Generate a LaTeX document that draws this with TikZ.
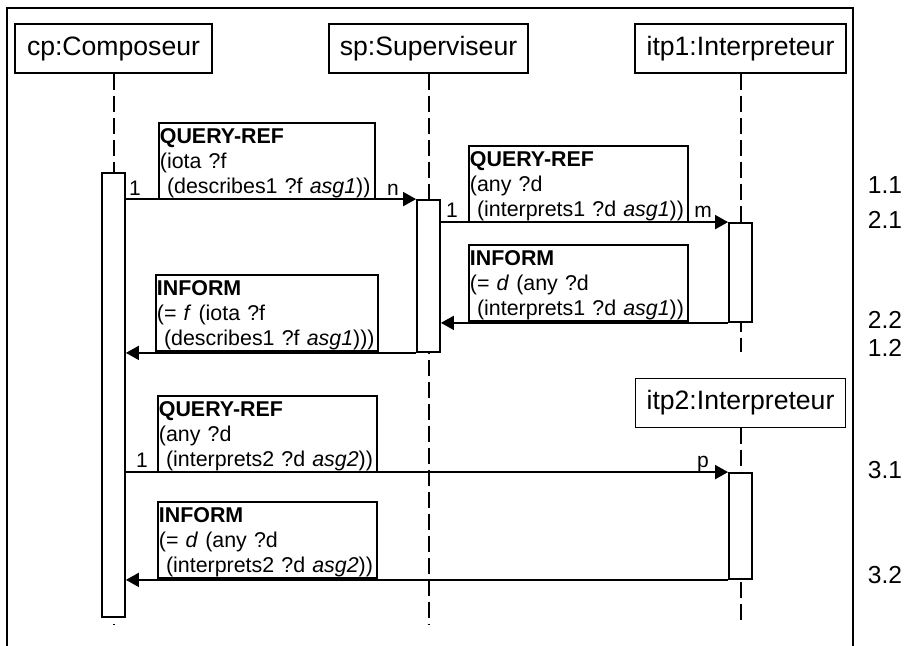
\documentclass[tikz,border=0pt]{standalone}
\usepackage{fontspec}
\setmainfont{Liberation Sans}
\usetikzlibrary{arrows.meta}

\newcommand*{\lifeend}{625}
\newcommand*{\msgtext}[3]{\rule{0pt}{10pt}\textbf{#1}\\#2\\~#3}

\begin{document}
\begin{tikzpicture}
[
	x=0.5pt,
	y=-0.5pt,
	object/.style={draw,line width=0.9pt,minimum width=#1,minimum height=24.5pt,inner sep=0pt,font=\fontsize{13.3}{15}\selectfont},
	activation/.style={draw,fill=white,line width=0.9pt,minimum width=11.5pt,minimum height=#1,inner sep=0pt},
	lifeline/.style={line width=1pt,dash pattern=on 8pt off 3pt},
	msg/.style={line width=0.9pt,-{Triangle[length=6.5pt,width=7pt]}},
	msgbox/.style={draw,fill=white,line width=0.9pt,anchor=south west,align=left,text width=#1,inner xsep=0.5pt,inner ysep=0.5pt,font=\fontsize{10.7}{12.5}\selectfont},
	multi/.style={anchor=base,inner sep=0pt,font=\fontsize{10.5}{12}\selectfont},
	seqnum/.style={inner sep=0pt,font=\fontsize{12.3}{14}\selectfont}
]
	\useasboundingbox (0,0) rectangle (907,646);

	% frame
	\draw[line width=1.2pt] (7,646) -- (7,8) -- (853,8) -- (853,646);

	% objects
	\node[object=98.5pt] (cp) at (113.5,48.5) {cp:Composeur};
	\node[object=99.5pt] (sp) at (428.5,48.5) {sp:Superviseur};
	\node[object=105.5pt] (itp1) at (740.5,48.5) {itp1:Interpreteur};
	\node[object=105pt] (itp2) at (740.5,403) {itp2:Interpreteur};

	% lifelines
	\draw[lifeline] (cp.south) -- (cp.south |- 0,\lifeend);
	\draw[lifeline] (sp.south) -- (sp.south |- 0,\lifeend);
	\draw[lifeline] (itp1.south) -- (itp1.south |- 0,352);
	\draw[lifeline] (itp2.south) -- (itp2.south |- 0,\lifeend);

	% activations
	\node[activation=222pt] (cpact) at (cp.south |- 0,395) {};
	\node[activation=76pt] (spact) at (sp.south |- 0,276) {};
	\node[activation=49.5pt] (itp1act) at (itp1.south |- 0,272.5) {};
	\node[activation=53pt] (itp2act) at (itp2.south |- 0,526) {};

	% messages
	\draw[msg] (cpact.east |- spact.north) -- (spact.north west);
	\draw[msg] (spact.east |- itp1act.north) -- (itp1act.north west);
	\draw[msg] (itp1act.south west) -- (spact.east |- itp1act.south);
	\draw[msg] (spact.south west) -- (cpact.east |- spact.south);
	\draw[msg] (cpact.east |- itp2act.north) -- (itp2act.north west);
	\draw[msg] (itp2act.south west) -- (cpact.east |- itp2act.south);

	\node[msgbox=107pt] (q1) at (158,200) {\msgtext{QUERY-REF}{(iota ?f}{(describes1 ?f \textit{asg1}))}};
	\node[msgbox=108.5pt] (q2) at (468,223) {\msgtext{QUERY-REF}{(any ?d}{(interprets1 ?d \textit{asg1}))}};
	\node[msgbox=108.5pt] (i2) at (468,322) {\msgtext{INFORM}{(= \textit{d} (any ?d}{(interprets1 ?d \textit{asg1}))}};
	\node[msgbox=110pt] (i1) at (155,352) {\msgtext{INFORM}{(= \textit{f} (iota ?f}{(describes1 ?f \textit{asg1})))}};
	\node[msgbox=108.5pt] (q3) at (157,473) {\msgtext{QUERY-REF}{(any ?d}{(interprets2 ?d \textit{asg2}))}};
	\node[msgbox=108.5pt] (i3) at (157,579) {\msgtext{INFORM}{(= \textit{d} (any ?d}{(interprets2 ?d \textit{asg2}))}};

	% multiplicities
	\node[multi] (m1a) at (135,196) {1};
	\node[multi] (m1b) at (393,196) {n};
	\node[multi] (m2a) at (452,218) {1};
	\node[multi] (m2b) at (703,218) {m};
	\node[multi] (m3a) at (142,468) {1};
	\node[multi] (m3b) at (703,468) {p};

	% sequence numbers
	\node[seqnum] (s11) at (885,185) {1.1};
	\node[seqnum] (s21) at (885,220) {2.1};
	\node[seqnum] (s22) at (885,320) {2.2};
	\node[seqnum] (s12) at (885,348) {1.2};
	\node[seqnum] (s31) at (885,470) {3.1};
	\node[seqnum] (s32) at (885,575) {3.2};

\end{tikzpicture}
\end{document}
